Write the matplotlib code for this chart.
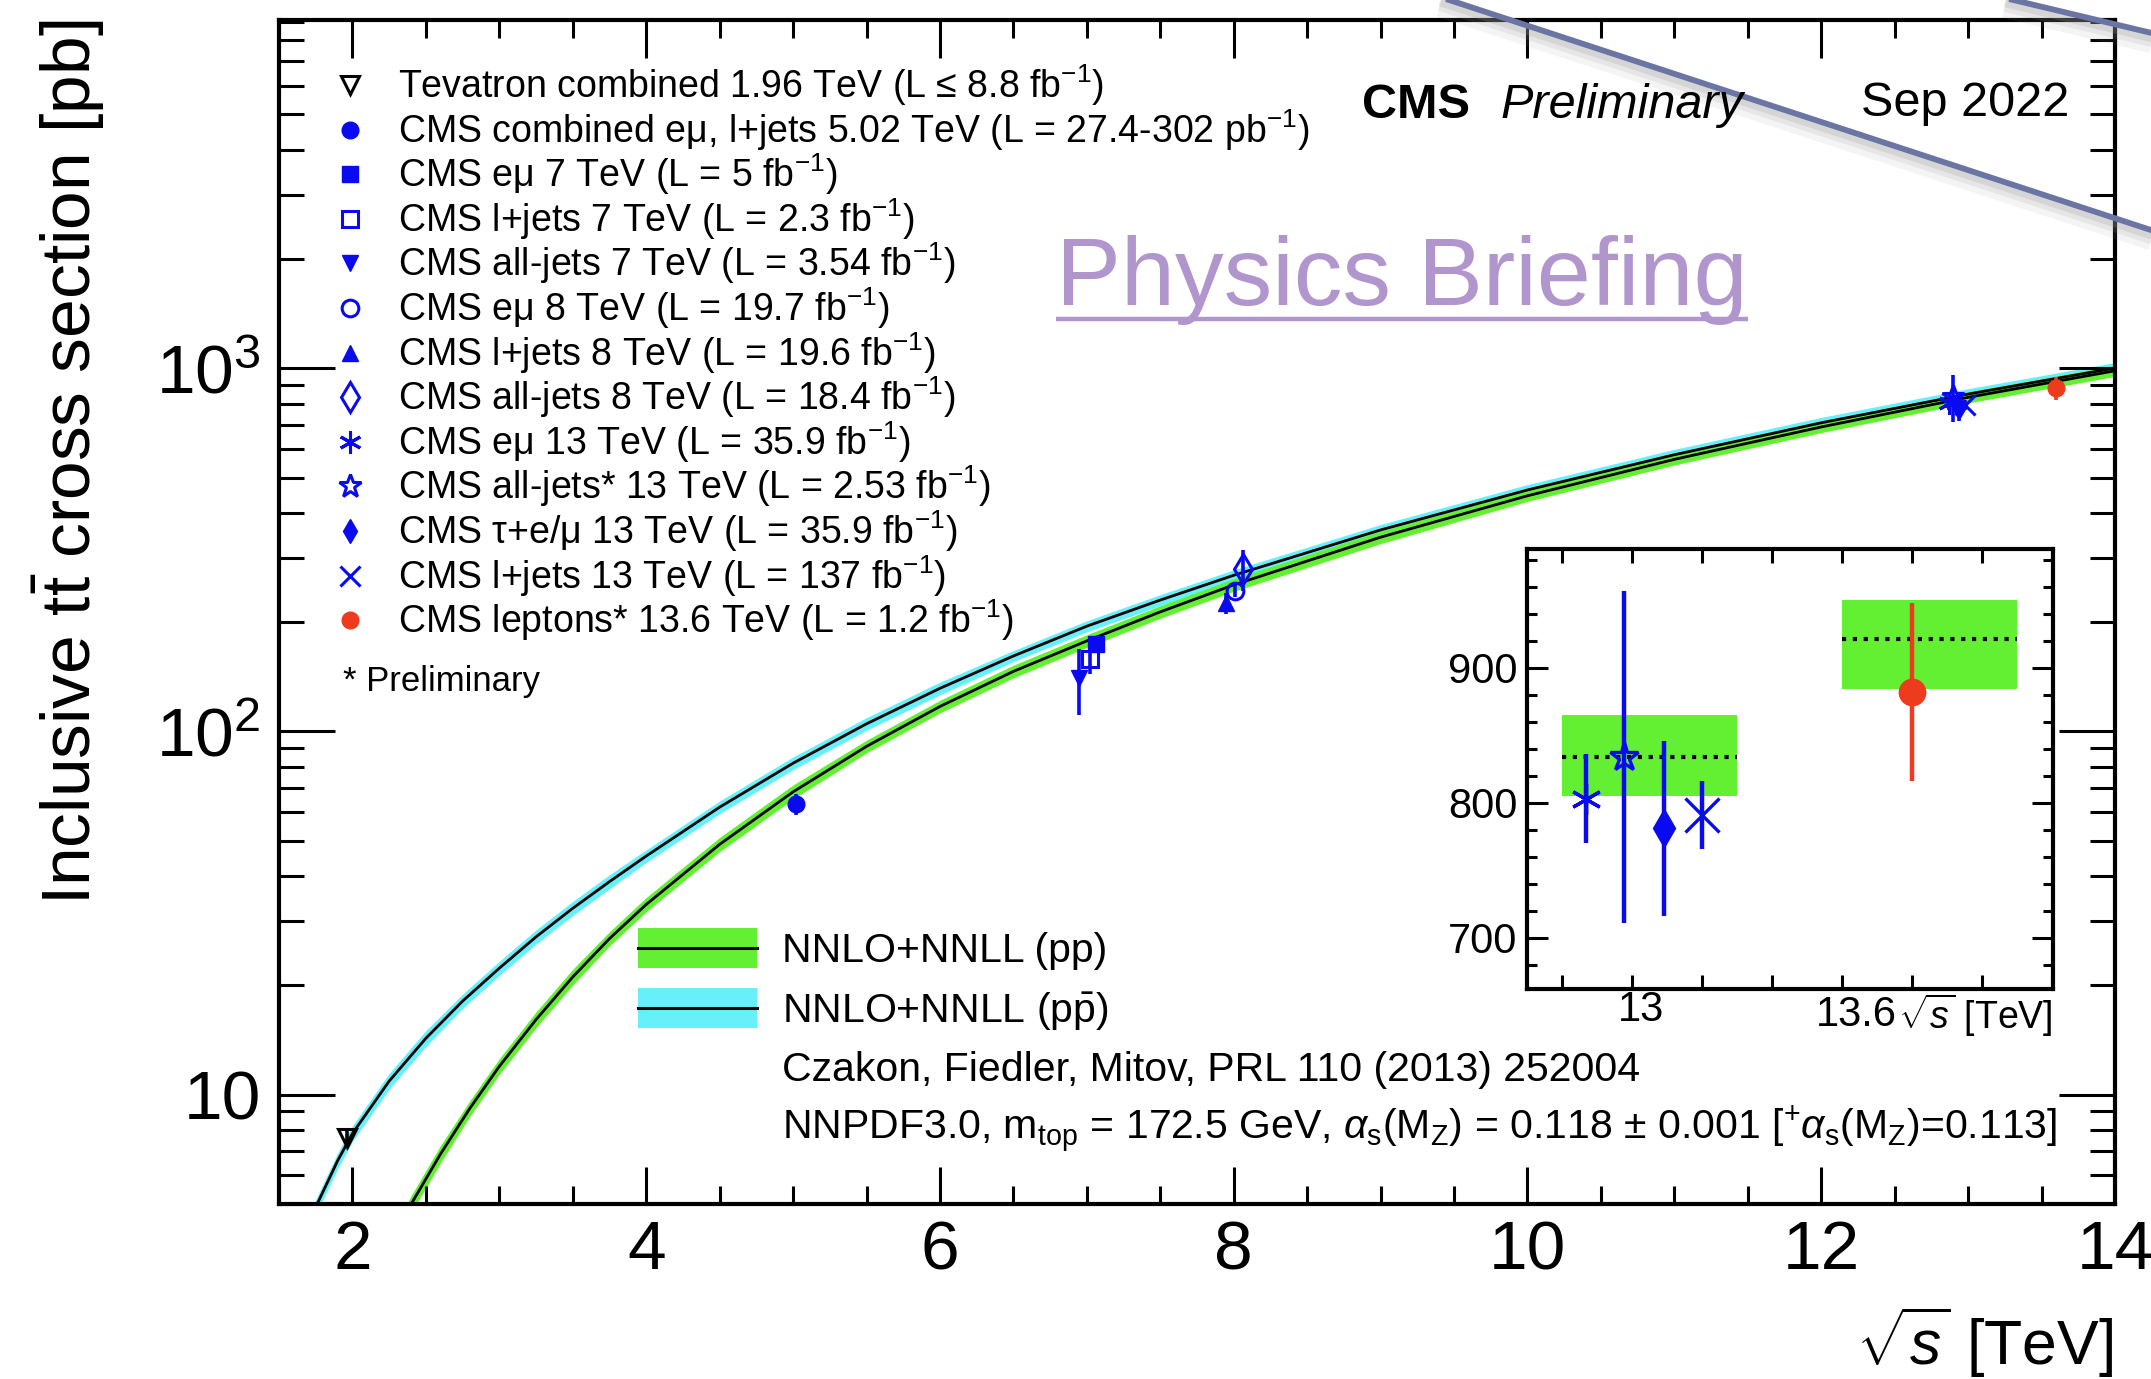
import matplotlib
matplotlib.use("Agg")
import matplotlib.pyplot as plt
from matplotlib.patches import Rectangle
from matplotlib.ticker import (FixedLocator, FixedFormatter, LogLocator,
                               MultipleLocator, NullFormatter)

plt.rcParams['font.family'] = ['Liberation Sans', 'DejaVu Sans']
plt.rcParams['mathtext.fontset'] = 'custom'
plt.rcParams['mathtext.rm'] = 'Liberation Sans'
plt.rcParams['mathtext.it'] = 'Liberation Sans:italic'
plt.rcParams['mathtext.bf'] = 'Liberation Sans:bold'
plt.rcParams['mathtext.sf'] = 'Liberation Sans'

# ---------------------------------------------------------------------------
# NNLO+NNLL predictions: inclusive ttbar cross section [pb] vs sqrt(s) [TeV]
# ---------------------------------------------------------------------------
pp_sqrts = [2.2, 2.4, 2.6, 2.8, 3.0, 3.25, 3.5, 3.75, 4.0, 4.5, 5.0, 5.5,
            6.0, 6.5, 7.0, 7.5, 8.0, 9.0, 10.0, 11.0, 12.0, 13.0, 13.6, 14.0]
pp_xsec = [3.52, 5.00, 6.87, 9.18, 11.97, 16.1, 21.1, 26.9, 33.4, 48.9, 68.2,
           91.0, 117.2, 146.4, 177.6, 213.5, 253.3, 342.8, 445.7, 561.5,
           689.5, 831.8, 920.3, 984.5]
pp_unc_pct = [5.5, 5.5, 5.5, 5.0, 5.0, 5.0, 5.0, 4.5, 4.5, 4.5, 4.5, 4.0,
              4.0, 4.0, 4.0, 4.0, 4.0, 4.0, 3.5, 3.5, 3.5, 3.5, 3.5, 3.5]

ppbar_sqrts = [1.6, 1.76, 1.9, 2.0, 2.25, 2.5, 2.75, 3.0, 3.25, 3.5, 3.75,
               4.0, 4.5, 5.0, 5.5, 6.0, 6.5, 7.0, 7.5, 8.0, 9.0, 10.0, 11.0,
               12.0, 13.0, 14.0]
ppbar_xsec = [3.52, 5.00, 6.59, 7.82, 10.9, 14.3, 18.1, 22.3, 27.2, 32.6,
              38.6, 45.4, 61.9, 81.8, 105.0, 131.5, 161.4, 195.0, 230.1,
              269.2, 358.9, 462.4, 578.1, 707.9, 849.2, 1002.0]
ppbar_unc_pct = [5.0, 5.0, 5.0, 5.0, 5.0, 5.0, 4.5, 4.5, 4.5, 4.5, 4.5, 4.0,
                 4.0, 4.0, 4.0, 4.0, 3.5, 3.5, 3.5, 3.5, 3.5, 3.5, 3.5, 3.5,
                 3.5, 3.5]

# ---------------------------------------------------------------------------
# Measurements
# ---------------------------------------------------------------------------
meas_labels = [
    r"Tevatron combined 1.96 TeV (L ≤ 8.8 fb$^{-1}$)",
    r"CMS combined eμ, l+jets 5.02 TeV (L = 27.4-302 pb$^{-1}$)",
    r"CMS eμ 7 TeV (L = 5 fb$^{-1}$)",
    r"CMS l+jets 7 TeV (L = 2.3 fb$^{-1}$)",
    r"CMS all-jets 7 TeV (L = 3.54 fb$^{-1}$)",
    r"CMS eμ 8 TeV (L = 19.7 fb$^{-1}$)",
    r"CMS l+jets 8 TeV (L = 19.6 fb$^{-1}$)",
    r"CMS all-jets 8 TeV (L = 18.4 fb$^{-1}$)",
    r"CMS eμ 13 TeV (L = 35.9 fb$^{-1}$)",
    r"CMS all-jets* 13 TeV (L = 2.53 fb$^{-1}$)",
    r"CMS τ+e/μ 13 TeV (L = 35.9 fb$^{-1}$)",
    r"CMS l+jets 13 TeV (L = 137 fb$^{-1}$)",
    r"CMS leptons* 13.6 TeV (L = 1.2 fb$^{-1}$)",
]
meas_sqrts = [1.96, 5.02, 7.0, 7.0, 7.0, 8.0, 8.0, 8.0, 13.0, 13.0, 13.0,
              13.0, 13.6]
meas_xsec = [7.60, 63.0, 173.6, 158.0, 140.0, 244.0, 226.0, 280.0, 803.0,
             834.0, 781.0, 791.0, 882.0]
meas_err = [0.41, 4.1, 8.0, 14.0, 29.0, 9.0, 15.0, 36.0, 33.0, 123.0, 65.0,
            25.0, 66.0]

# Predictions shown in the zoomed panel
zoom_sqrts = [13.0, 13.6]
zoom_theory = [834.0, 921.0]
zoom_theory_lo = [805.0, 884.0]
zoom_theory_hi = [865.0, 950.0]

# ---------------------------------------------------------------------------
# Styling
# ---------------------------------------------------------------------------
GREEN = '#64F032'
CYAN = '#66F0FA'
BLUE = '#0A0AF0'
RED = '#EE3B1E'
PURPLE = '#B196CD'
SLATE = '#6B75A3'

# marker, filled, colour, size (main panel)
marker_styles = [
    ('v', False, 'black', 13),
    ('o', True, BLUE, 12),
    ('s', True, BLUE, 12),
    ('s', False, BLUE, 12),
    ('v', True, BLUE, 12),
    ('o', False, BLUE, 12),
    ('^', True, BLUE, 12),
    ('d', False, BLUE, 15),
    ((6, 2, 0), False, BLUE, 16),
    ('*', False, BLUE, 17),
    ('d', True, BLUE, 12),
    ('x', False, BLUE, 14),
    ('o', True, RED, 12),
]
# small horizontal displacement so overlapping points stay visible
main_shift = [0.0, 0.0, 0.06, 0.02, -0.05, 0.01, -0.05, 0.06,
              -0.13, -0.10, -0.06, -0.02, 0.0]

W, H, DPI = 2151, 1379, 100
fig = plt.figure(figsize=(W / DPI, H / DPI), dpi=DPI)
fig.patch.set_facecolor('white')


def frac_box(x0, y0, x1, y1):
    return [x0 / W, 1 - y1 / H, (x1 - x0) / W, (y1 - y0) / H]


def draw_marker(axis, x, y, style, scale=1.0, **kw):
    m, filled, col, ms = style
    axis.plot([x], [y], linestyle='none', marker=m, ms=ms * scale,
              mfc=col if filled else 'none', mec=col,
              mew=2.2 * scale if not filled else 1.0, **kw)


# ---------------------------------------------------------------------------
# Main panel
# ---------------------------------------------------------------------------
ax = fig.add_axes(frac_box(279, 20, 2115, 1204))
ax.set_yscale('log')
ax.set_xlim(1.5, 14.0)
ax.set_ylim(5, 9100)

ppbar_lo = [v * (1 - u / 100) for v, u in zip(ppbar_xsec, ppbar_unc_pct)]
ppbar_hi = [v * (1 + u / 100) for v, u in zip(ppbar_xsec, ppbar_unc_pct)]
pp_lo = [v * (1 - u / 100) for v, u in zip(pp_xsec, pp_unc_pct)]
pp_hi = [v * (1 + u / 100) for v, u in zip(pp_xsec, pp_unc_pct)]

ax.fill_between(ppbar_sqrts, ppbar_lo, ppbar_hi, color=CYAN, lw=0, zorder=1)
ax.fill_between(pp_sqrts, pp_lo, pp_hi, color=GREEN, lw=0, zorder=1.1)
ax.plot(ppbar_sqrts, ppbar_xsec, color='black', lw=2.0, zorder=2)
ax.plot(pp_sqrts, pp_xsec, color='black', lw=2.0, zorder=2)

for i in range(len(meas_sqrts)):
    style = marker_styles[i]
    xpos = meas_sqrts[i] + main_shift[i]
    ax.errorbar([xpos], [meas_xsec[i]], yerr=[meas_err[i]], fmt='none',
                ecolor=style[2], elinewidth=2.6, capsize=0, zorder=3)
    draw_marker(ax, xpos, meas_xsec[i], style, zorder=4)

ax.xaxis.set_major_locator(MultipleLocator(2))
ax.xaxis.set_minor_locator(MultipleLocator(0.5))
ax.yaxis.set_major_locator(FixedLocator([10, 100, 1000]))
ax.yaxis.set_major_formatter(FixedFormatter(['10', r'$10^{2}$', r'$10^{3}$']))
ax.yaxis.set_minor_locator(LogLocator(base=10, subs=range(2, 10), numticks=30))
ax.yaxis.set_minor_formatter(NullFormatter())
ax.tick_params(which='both', direction='in', top=True, right=True,
               width=2.2, color='black')
ax.tick_params(axis='x', which='major', length=27, labelsize=50, pad=11)
ax.tick_params(axis='x', which='minor', length=13)
ax.tick_params(axis='y', which='major', length=40, labelsize=50, pad=13)
ax.tick_params(axis='y', which='minor', length=18)
for sp in ax.spines.values():
    sp.set_linewidth(3.0)

# ---------------------------------------------------------------------------
# Zoomed panel around 13 and 13.6 TeV
# ---------------------------------------------------------------------------
axi = fig.add_axes(frac_box(1527, 549, 2053, 989), zorder=5)
axi.set_xlim(0, 7.52)
axi.set_ylim(662, 988)
group_center = [1.75, 5.75]
group_half = 1.25
for c, t, lo, hi in zip(group_center, zoom_theory, zoom_theory_lo,
                        zoom_theory_hi):
    axi.fill_between([c - group_half, c + group_half], [lo, lo], [hi, hi],
                     color=GREEN, lw=0, zorder=1)
    axi.plot([c - group_half, c + group_half], [t, t], color='black', lw=3,
             ls=(0, (1, 1.6)), zorder=2)

zoom_index = [8, 9, 10, 11, 12]
zoom_group = [0, 0, 0, 0, 1]
zoom_offset = [-0.91, -0.37, 0.21, 0.75, -0.24]
zoom_ms = [22, 21, 19, 24, 19]
for k, i in enumerate(zoom_index):
    m, filled, col, _ = marker_styles[i]
    xpos = group_center[zoom_group[k]] + zoom_offset[k]
    axi.errorbar([xpos], [meas_xsec[i]], yerr=[meas_err[i]], fmt='none',
                 ecolor=col, elinewidth=3.2, capsize=0, zorder=3)
    axi.plot([xpos], [meas_xsec[i]], linestyle='none', marker=m,
             ms=zoom_ms[k], mfc=col if filled else 'none', mec=col,
             mew=2.4 if not filled else 1.0, zorder=4)

axi.xaxis.set_major_locator(FixedLocator([0.5, 1.5, 2.5, 3.5, 4.5, 5.5,
                                          6.5, 7.5]))
axi.xaxis.set_major_formatter(NullFormatter())
axi.yaxis.set_major_locator(MultipleLocator(100))
axi.yaxis.set_minor_locator(MultipleLocator(20))
axi.tick_params(which='both', direction='in', top=True, right=True,
                width=2.2, color='black')
axi.tick_params(axis='x', which='major', length=10)
axi.tick_params(axis='y', which='major', length=15, labelsize=30, pad=7)
axi.tick_params(axis='y', which='minor', length=7)
for sp in axi.spines.values():
    sp.set_linewidth(3.0)

# ---------------------------------------------------------------------------
# Text, legend and decorations (pixel coordinates, y downwards)
# ---------------------------------------------------------------------------
ov = fig.add_axes([0, 0, 1, 1], zorder=10)
ov.set_xlim(0, W)
ov.set_ylim(H, 0)
ov.axis('off')

ov.text(69, 20, r"Inclusive $\mathrm{t\bar{t}}$ cross section [pb]",
        rotation=90, ha='center', va='top', fontsize=50)
ov.text(2113, 1342, r"$\sqrt{s}$ [TeV]", ha='right', va='center',
        fontsize=45)

ov.text(1362, 106, "CMS", fontsize=35, fontweight='bold', va='center')
ov.text(1500, 106, "Preliminary", fontsize=35, fontstyle='italic',
        va='center')
ov.text(2069, 103, "Sep 2022", fontsize=35, ha='right', va='center')

# measurement legend
row0, row_step = 85, 44.6
for i, label in enumerate(meas_labels):
    yrow = row0 + i * row_step
    draw_marker(ov, 350, yrow, marker_styles[i], clip_on=False)
    ov.text(398, yrow + 13, label, fontsize=27, va='baseline')
ov.text(343, 682, "* Preliminary", fontsize=25, va='center')

# theory legend
for yc, col, label in [(948, GREEN, "NNLO+NNLL (pp)"),
                       (1008, CYAN, r"NNLO+NNLL (p$\bar{\mathrm{p}}$)")]:
    ov.add_patch(Rectangle((638, yc - 20), 119, 40, facecolor=col,
                           edgecolor='none'))
    ov.plot([638, 757], [yc, yc], color='black', lw=2.2)
    ov.text(782, yc + 14, label, fontsize=29.5, va='baseline')
ov.text(782, 1067 + 14, "Czakon, Fiedler, Mitov, PRL 110 (2013) 252004",
        fontsize=29.5, va='baseline')
ov.text(782, 1125 + 14,
        r"NNPDF3.0, m$_{\mathrm{top}}$ = 172.5 GeV, $\alpha_{\mathrm{s}}$"
        r"(M$_{\mathrm{Z}}$) = 0.118 $\pm$ 0.001 "
        r"[$^{+}\alpha_{\mathrm{s}}$(M$_{\mathrm{Z}}$)=0.113]",
        fontsize=29.5, va='baseline')

# zoomed panel axis labels
ov.text(1641, 1010, "13", fontsize=30, ha='center', va='center')
ov.text(1856, 1015, "13.6", fontsize=30, ha='center', va='center')
ov.text(2053, 1015, r"$\sqrt{s}$ [TeV]", fontsize=27, ha='right',
        va='center')

# underlined heading
pb = ov.text(1056, 305, "Physics Briefing", fontsize=70, color=PURPLE,
             va='baseline')
fig.canvas.draw()
bb = pb.get_window_extent()
ov.plot([bb.x0, bb.x1], [319, 319], color=PURPLE, lw=3.2,
        solid_capstyle='butt')

# slanted strokes with soft shadow in the top-right corner
for (x0, y0, x1, y1) in [(1440, -3, 2160, 233), (2005, -2, 2160, 35)]:
    for off, lw, a in [(9, 16, 0.10), (7, 10, 0.15), (5, 6, 0.22)]:
        ov.plot([x0, x1], [y0 + off, y1 + off], color='#9A9A9A', lw=lw,
                alpha=a, solid_capstyle='butt', clip_on=False)
    ov.plot([x0, x1], [y0, y1], color=SLATE, lw=4.2, solid_capstyle='butt',
            clip_on=False)

fig.savefig('out.png', dpi=DPI, facecolor='white')
